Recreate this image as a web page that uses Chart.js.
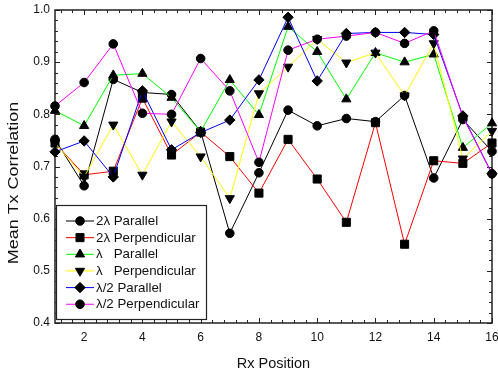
<!DOCTYPE html>
<html>
<head>
<meta charset="utf-8">
<script src="https://cdn.jsdelivr.net/npm/chart.js@4.4.1/dist/chart.umd.min.js"></script>
<style>
  html, body { margin: 0; padding: 0; background: #fff; }
</style>
</head>
<body>
<canvas id="lineChart" width="498" height="374"></canvas>
<script>
// Rx positions along the x axis
const rxPositions = [1, 2, 3, 4, 5, 6, 7, 8, 9, 10, 11, 12, 13, 14, 15, 16];

// mean Tx correlation per series
const twoLambdaParallel = [0.752, 0.663, 0.867, 0.842, 0.838, 0.767, 0.572, 0.688, 0.808, 0.778, 0.792, 0.786, 0.836, 0.678, 0.790, 0.729];
const twoLambdaPerp     = [0.745, 0.684, 0.691, 0.831, 0.722, 0.766, 0.719, 0.649, 0.752, 0.676, 0.593, 0.784, 0.551, 0.711, 0.706, 0.745];
const lambdaParallel    = [0.807, 0.778, 0.875, 0.878, 0.832, 0.767, 0.866, 0.799, 0.968, 0.920, 0.829, 0.918, 0.900, 0.915, 0.736, 0.783];
const lambdaPerp        = [0.745, 0.680, 0.780, 0.684, 0.786, 0.719, 0.639, 0.840, 0.891, 0.944, 0.899, 0.918, 0.836, 0.936, 0.715, 0.768];
const halfLambdaParallel = [0.728, 0.749, 0.680, 0.845, 0.732, 0.765, 0.789, 0.866, 0.986, 0.864, 0.955, 0.957, 0.957, 0.953, 0.797, 0.686];
const halfLambdaPerp     = [0.816, 0.861, 0.935, 0.802, 0.800, 0.907, 0.845, 0.708, 0.923, 0.944, 0.950, 0.957, 0.936, 0.960, 0.795, 0.686];

const seriesLabels = ["2\u03bb Parallel", "2\u03bb Perpendicular", "\u03bb   Parallel", "\u03bb   Perpendicular", "\u03bb/2 Parallel", "\u03bb/2 Perpendicular"];

// tick labels
const xTickValues = [2, 4, 6, 8, 10, 12, 14, 16];
const yTickValues = [0.4, 0.5, 0.6, 0.7, 0.8, 0.9, 1.0];

const FONT = "'Liberation Sans', Arial, sans-serif";

function series(values, color, style, radius, rotation) {
  return {
    data: rxPositions.map((x, i) => ({ x, y: values[i] })),
    borderColor: color,
    backgroundColor: color,
    borderWidth: 1,
    pointStyle: style,
    pointRadius: radius,
    pointRotation: rotation || 0,
    pointBackgroundColor: "#000",
    pointBorderColor: "#000",
    pointBorderWidth: 1,
    tension: 0,
    clip: false,
  };
}

const datasets = [
  series(twoLambdaParallel, "#000000", "circle", 4.3),
  series(twoLambdaPerp, "#ff0000", "rect", 5.7),
  series(lambdaParallel, "#00ff00", "triangle", 5.3),
  series(lambdaPerp, "#ffff00", "triangle", 5.3, 180),
  series(halfLambdaParallel, "#0000ff", "rectRot", 5.2),
  series(halfLambdaPerp, "#ff00ff", "circle", 4.3),
];
datasets.forEach((d, i) => {
  d.label = seriesLabels[i];
  d.order = datasets.length - i; // later series on top, like the original
});

// frame with inward ticks on all four sides, y title, boxed legend
const framePlugin = {
  id: "frame",
  beforeDatasetsDraw(chart) {
    const { ctx, chartArea: a, scales } = chart;
    ctx.save();
    ctx.strokeStyle = "#222";
    ctx.lineWidth = 1;
    ctx.beginPath();
    for (let i = 0; i <= 30; i++) {
      const py = Math.round(scales.y.getPixelForValue(0.4 + i * 0.02)) + 0.5;
      const len = i % 5 === 0 ? 5 : 3;
      ctx.moveTo(a.left, py); ctx.lineTo(a.left + len, py);
      ctx.moveTo(a.right, py); ctx.lineTo(a.right - len, py);
    }
    for (let i = 3; i <= 40; i++) {
      const px = Math.round(scales.x.getPixelForValue(i * 0.4)) + 0.5;
      const len = i % 5 === 0 ? 5 : 3;
      ctx.moveTo(px, a.bottom); ctx.lineTo(px, a.bottom - len);
      ctx.moveTo(px, a.top); ctx.lineTo(px, a.top + len);
    }
    ctx.stroke();
    ctx.lineWidth = 1.5;
    ctx.strokeRect(a.left, a.top, a.right - a.left, a.bottom - a.top);

    // y axis title (stretched along its length like the original export)
    ctx.fillStyle = "#111";
    ctx.font = "14px " + FONT;
    ctx.textAlign = "center";
    ctx.textBaseline = "middle";
    ctx.translate(14, 183);
    ctx.rotate(-Math.PI / 2);
    ctx.scale(1.28, 1);
    ctx.fillText("Mean Tx Correlation", 0, 0);
    ctx.restore();
  },
  afterDatasetsDraw(chart) {
    const { ctx } = chart;
    const box = { left: 56, top: 205, width: 150, height: 114 };
    ctx.save();
    ctx.fillStyle = "#fff";
    ctx.fillRect(box.left, box.top, box.width, box.height);
    ctx.strokeStyle = "#222";
    ctx.lineWidth = 1.2;
    ctx.strokeRect(box.left + 0.5, box.top + 0.5, box.width, box.height);
    chart.data.datasets.forEach((d, i) => {
      const y = 221 + i * 16.65;
      ctx.strokeStyle = d.borderColor;
      ctx.lineWidth = 1;
      ctx.beginPath();
      ctx.moveTo(66, y); ctx.lineTo(94, y);
      ctx.stroke();
      ctx.fillStyle = "#000";
      ctx.strokeStyle = "#000";
      Chart.helpers.drawPoint(ctx, {
        pointStyle: d.pointStyle,
        rotation: d.pointRotation,
        radius: d.pointRadius,
        borderWidth: 1,
      }, 80, y);
      ctx.fillStyle = "#111";
      ctx.font = "13.3px " + FONT;
      ctx.textAlign = "left";
      ctx.textBaseline = "middle";
      ctx.fillText(d.label, 96, y + 0.5);
    });
    ctx.restore();
  },
};

const config = {
  type: "line",
  data: { datasets },
  options: {
    responsive: false,
    animation: false,
    devicePixelRatio: 1,
    layout: { padding: { top: 10, right: 6, left: 0, bottom: 0 }, autoPadding: false },
    plugins: { legend: { display: false }, tooltip: { enabled: false } },
    scales: {
      x: {
        type: "linear",
        min: 1,
        max: 16,
        grid: { display: false, drawTicks: false },
        border: { display: false },
        afterBuildTicks: (scale) => { scale.ticks = xTickValues.map((v) => ({ value: v })); },
        afterFit: (scale) => {
          scale.height = 51;
          scale.paddingLeft = 0;
          scale.paddingRight = 0;
        },
        ticks: { padding: 7, color: "#111", font: { family: FONT, size: 12 }, maxRotation: 0 },
        title: { display: true, text: "Rx Position", color: "#111", font: { family: FONT, size: 14.5 }, padding: { top: 0, bottom: 1 } },
      },
      y: {
        type: "linear",
        min: 0.4,
        max: 1.0,
        grid: { display: false, drawTicks: false },
        border: { display: false },
        afterBuildTicks: (scale) => { scale.ticks = yTickValues.map((v) => ({ value: v })); },
        afterFit: (scale) => {
          scale.width = 55;
          scale.paddingTop = 0;
          scale.paddingBottom = 0;
        },
        ticks: { padding: 5, color: "#111", font: { family: FONT, size: 12 }, callback: (v) => Number(v).toFixed(1) },
      },
    },
  },
  plugins: [framePlugin],
};

new Chart(document.getElementById("lineChart"), config);
</script>
</body>
</html>
